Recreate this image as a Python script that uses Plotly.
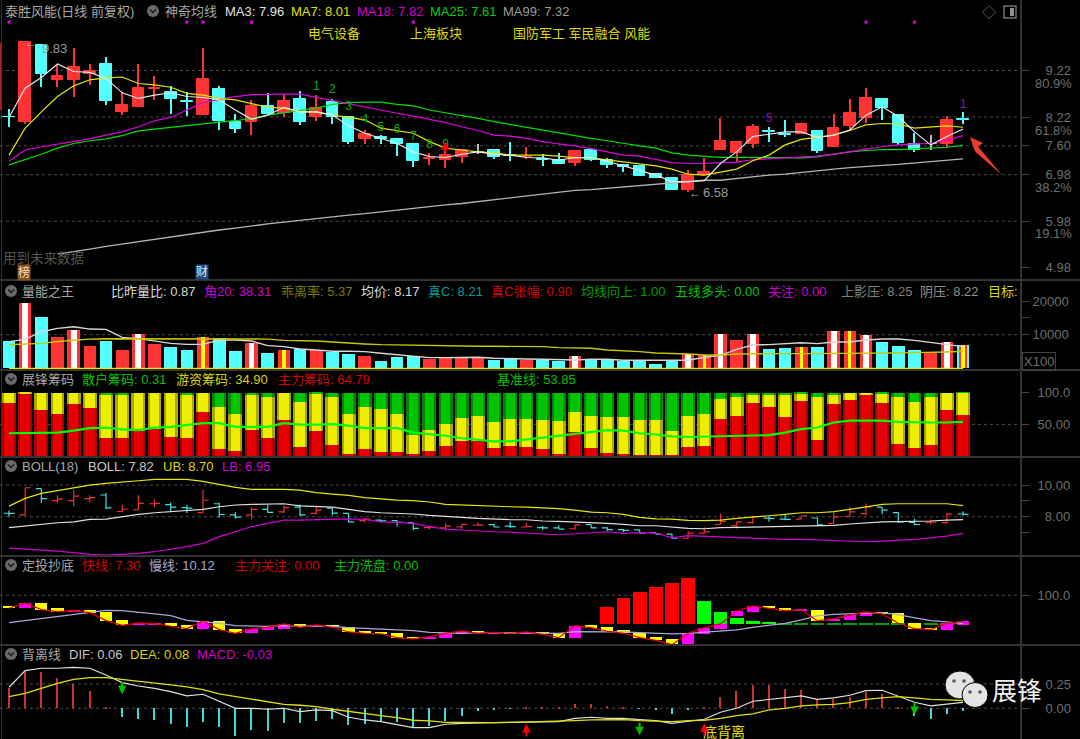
import plotly.graph_objects as go

W, H = 1080, 739
STEP = 16.17
X0 = 9.0
AXIS_X = 1020

# ---------- candles ----------
opens = [8.22,8.11,9.77,9.02,9.02,9.14,9.37,8.33,8.44,8.82,8.76,8.57,8.26,8.82,8.12,8.12,8.46,8.30,8.60,8.21,
         8.54,8.21,7.75,7.78,7.75,7.63,7.31,7.29,7.35,7.46,7.50,7.40,7.35,7.31,7.29,7.24,7.51,7.29,7.18,7.17,
         6.99,6.90,6.64,6.97,7.51,7.44,7.63,7.91,7.85,7.85,7.92,7.58,8.03,8.19,8.60,8.26,7.64,7.64,7.63,8.17]
highs = [8.39,9.83,9.77,9.36,9.70,9.36,9.50,8.76,9.35,9.10,8.89,8.76,9.70,8.89,8.28,8.59,8.74,8.71,8.77,8.69,
         8.60,8.21,7.95,7.83,7.76,7.63,7.45,7.58,7.53,7.65,7.52,7.68,7.58,7.42,7.45,7.52,7.51,7.33,7.22,7.17,
         6.99,6.92,7.09,7.33,8.19,7.68,8.06,8.00,8.16,8.06,7.94,8.28,8.60,8.84,8.60,8.26,7.87,7.83,8.24,8.33]
lows = [8.00,8.07,8.87,8.87,8.66,8.91,8.48,8.26,8.44,8.59,8.28,8.24,8.26,7.93,7.87,7.83,8.26,8.23,8.04,8.14,
        8.07,7.64,7.64,7.65,7.38,7.15,7.19,7.13,7.24,7.42,7.32,7.28,7.32,7.17,7.22,7.17,7.27,7.12,7.04,6.96,
        6.90,6.64,6.60,6.95,7.51,7.26,7.55,7.68,7.78,7.85,7.44,7.58,7.95,8.10,8.16,7.61,7.46,7.51,7.55,8.07]
closes = [8.21,9.83,9.14,9.11,9.30,9.21,8.56,8.47,8.84,8.84,8.60,8.54,9.04,8.14,7.97,8.46,8.28,8.57,8.11,8.41,
          8.23,7.68,7.85,7.74,7.64,7.27,7.33,7.40,7.52,7.47,7.35,7.38,7.37,7.29,7.22,7.48,7.29,7.19,7.14,6.96,
          6.90,6.64,6.97,7.04,7.70,7.68,8.01,7.90,7.83,8.06,7.49,7.99,8.30,8.62,8.41,7.67,7.51,7.65,8.16,8.15]
gray_doji = [29, 57]
N = len(opens)
xs = list(range(N))

ma3 = [8.21,8.84,9.07,9.36,9.20,9.18,9.05,8.74,8.62,8.69,8.74,8.66,8.64,8.59,8.37,8.17,8.26,8.43,8.33,8.33,
       8.26,8.03,7.87,7.76,7.65,7.47,7.37,7.35,7.42,7.47,7.42,7.40,7.35,7.34,7.29,7.35,7.35,7.27,7.17,7.07,
       6.97,6.83,6.83,6.85,7.22,7.47,7.80,7.85,7.90,7.90,7.78,7.83,7.94,8.26,8.44,8.23,7.90,7.62,7.80,7.96]
ma7 = [7.40,7.98,8.33,8.66,8.89,9.02,9.06,9.08,8.94,8.91,8.86,8.73,8.69,8.62,8.59,8.51,8.43,8.41,8.33,8.33,
       8.26,8.21,8.16,7.98,7.93,7.87,7.69,7.55,7.51,7.47,7.45,7.40,7.40,7.40,7.38,7.34,7.34,7.30,7.26,7.21,
       7.17,7.10,6.99,6.97,7.03,7.10,7.28,7.40,7.62,7.74,7.78,7.83,7.93,8.05,8.08,8.07,7.98,8.00,8.03,8.00]
ma18 = [7.27,7.51,7.58,7.64,7.70,7.75,7.83,7.90,8.01,8.14,8.21,8.37,8.53,8.60,8.66,8.70,8.71,8.71,8.71,8.64,
        8.57,8.50,8.44,8.37,8.30,8.24,8.17,8.10,8.01,7.93,7.83,7.81,7.76,7.69,7.64,7.60,7.54,7.47,7.40,7.38,
        7.31,7.24,7.22,7.22,7.24,7.25,7.30,7.32,7.33,7.35,7.38,7.42,7.48,7.53,7.58,7.62,7.64,7.65,7.72,7.82]
ma25 = [7.19,7.30,7.42,7.55,7.65,7.71,7.75,7.82,7.92,7.96,8.00,8.03,8.07,8.11,8.14,8.19,8.26,8.31,8.36,8.41,
        8.49,8.53,8.54,8.54,8.49,8.46,8.37,8.31,8.26,8.19,8.12,8.06,8.00,7.94,7.87,7.82,7.76,7.71,7.65,7.60,
        7.55,7.45,7.40,7.37,7.35,7.35,7.35,7.34,7.34,7.34,7.37,7.42,7.47,7.50,7.52,7.52,7.54,7.55,7.57,7.61]
ma99 = [None,None,None,5.27,5.32,5.38,5.44,5.49,5.55,5.60,5.65,5.70,5.75,5.79,5.83,5.88,5.92,5.96,6.00,6.04,
        6.08,6.11,6.14,6.18,6.21,6.25,6.29,6.33,6.36,6.40,6.45,6.49,6.52,6.56,6.60,6.64,6.66,6.69,6.72,6.75,
        6.78,6.81,6.83,6.86,6.86,6.90,6.93,6.97,6.99,7.03,7.06,7.10,7.13,7.16,7.18,7.20,7.23,7.27,7.30,7.32]
top_dots = [0, 11, 12, 15, 25, 53, 56]
top_dot_level = [10.26] * len(top_dots)
seq_x = [19, 20, 21, 22, 23, 24, 25, 26, 27]
seq_y = [8.87, 8.80, 8.44, 8.16, 7.98, 7.94, 7.79, 7.62, 7.62]
seq_txt = ['1', '2', '3', '4', '5', '6', '7', '8', '9']
mag_x = [47, 59]
mag_y = [8.17, 8.47]
mag_txt = ['5', '1']

price_ticks = [9.22, 8.22, 7.60, 6.98, 5.98, 4.98]
price_grid = [9.22, 8.22, 7.60, 6.98, 5.98]
pct_labels = [('80.9%', 84), ('61.8%', 130), ('38.2%', 188), ('19.1%', 234)]

# ---------- volume ----------
vol = [8130,19450,15120,9400,11380,6750,8130,5470,10100,7140,6450,5470,9400,9110,5170,7440,4480,5470,5860,5470,
       4780,4380,3790,2120,3400,3690,2800,3100,3400,3400,2510,3000,2510,2610,2120,3790,2710,2710,2220,2120,
       1430,2410,4280,4090,10200,8420,10200,5760,6060,6450,6450,11080,11080,9800,7830,6550,5470,4480,7830,6850]
vol_red = [0,1,0,1,1,1,0,1,1,1,0,0,1,0,0,1,0,1,0,1,0,0,1,0,0,0,1,1,1,1,0,0,1,0,0,1,0,0,0,0,0,0,1,1,1,1,1,0,0,1,0,1,1,1,0,0,0,1,1,0]
white_stripes = [1,4,8,15,35,42,44,46,51,53,58]
yellow_stripes = [12,17,43,49,52,59]
vol_ma_short = [7930,8620,10880,11870,12360,11670,11570,9210,8820,8130,7440,7140,7140,8420,8420,8130,6750,6450,5760,5470,
                5070,5070,4970,4480,3990,3600,3200,3200,3300,3300,3000,3000,2810,2710,2610,2510,2710,2710,2410,2410,
                2310,2410,2410,3300,3890,5660,6940,7040,7440,7630,7340,7830,7830,8420,8720,8720,8320,7630,7140,6450]
vol_ma_long = [7000,7300,7440,8000,8400,8700,8800,8800,8800,8800,8800,8800,8900,8800,8800,8750,8700,8320,8320,8130,
               7830,7440,7240,7040,6940,6750,6750,6650,6650,6550,6550,6550,6450,6450,6160,6060,5960,5470,5270,4970,
               4580,4480,4285,3990,3990,4285,4380,4380,4380,4380,4380,4380,4380,4380,4380,4580,4680,4680,4880,5070]
vol_base = [0] * N
vol_ticks = [20000, 15000, 10000]
vol_ticktext = ['20000', '', '10000']

# ---------- chips ----------
chip_red = [84,99,73,67,82,76,28,28,39,43,30,28,69,11,8,41,28,57,14,39,17,3,11,7,7,3,8,16,23,23,13,16,14,11,3,38,12,5,3,2,
            2,2,14,16,58,64,84,78,62,87,26,82,89,96,84,19,12,17,73,64.79]
chip_yellow = [16,1,27,33,18,24,70,68,61,57,70,70,31,67,58,57,65,43,72,60,76,64,67,67,60,30,33,34,37,41,40,42,44,46,52,31,52,57,58,55,
               55,37,50,51,32.5,29,12,18,34,12,67,16,11,4,15,75,73,76,27,34.9]
chip_green = [0,0,0,0,0,0,2,4,0,0,0,2,0,22,34,2,7,0,14,1,7,33,22,26,33,67,59,50,40,36,47,42,42,43,45,31,36,38,39,43,
              43,61,36,33,9.5,7,4,4,4,1,7,2,0,0,1,6,15,7,0,0.31]
chip_base = [36,36,36,37,40,44,45,42,41,45,46,49.5,52,52,46,46,46,52,49.5,49.5,50.5,48,44,44,44,37,35,32,28,26,23,23,26,29.5,33,35,38,41,40,36,
             34,31,30,30.5,31,32.5,32.5,33,37,42.6,45,53,56,56,56,54,53,53,53,53.85]
chip_ticks = [100, 50]
chip_ticktext = ['100.0', '50.00']

# ---------- Bollinger ----------
boll_mid = [7.31,7.41,7.52,7.62,7.67,7.83,7.85,8.00,8.15,8.25,8.32,8.38,8.46,8.63,8.74,8.78,8.82,8.82,8.69,8.67,
            8.61,8.46,8.32,8.25,8.21,8.17,8.08,8.00,7.96,7.89,7.83,7.81,7.81,7.73,7.71,7.68,7.62,7.58,7.52,7.43,
            7.43,7.35,7.26,7.24,7.31,7.33,7.35,7.37,7.37,7.37,7.41,7.45,7.54,7.62,7.67,7.69,7.69,7.73,7.79,7.82]
boll_up = [8.67,9.16,9.47,9.64,9.79,10.00,10.11,10.21,10.27,10.36,10.38,10.36,10.23,10.06,9.85,9.73,9.73,9.73,9.68,9.52,
           9.43,9.35,9.20,9.12,9.05,9.01,8.93,8.78,8.74,8.69,8.63,8.63,8.61,8.57,8.51,8.42,8.29,8.25,8.15,7.96,
           7.87,7.85,7.77,7.75,7.79,7.89,7.96,8.06,8.15,8.25,8.25,8.32,8.46,8.63,8.78,8.82,8.82,8.82,8.82,8.70]
boll_lb = [6.02,5.96,5.89,5.83,5.73,5.62,5.58,5.62,5.68,5.79,5.94,6.11,6.32,6.74,7.05,7.37,7.58,7.79,7.79,7.83,
           7.85,7.87,7.83,7.68,7.64,7.58,7.37,7.22,7.16,7.09,7.05,7.03,6.99,6.91,6.86,6.91,6.99,7.05,6.95,6.99,
           6.97,6.67,6.80,6.76,6.72,6.69,6.61,6.57,6.57,6.57,6.53,6.48,6.44,6.42,6.46,6.51,6.57,6.67,6.78,6.95]
boll_ticks = [10, 9, 8, 7]
boll_ticktext = ['10.00', '', '\u20078.00', '']

# ---------- dingtou ----------
box_top = [67.3,75.7,75.7,58.8,51.4,52.5,47.2,21.9,12.4,10.2,11.3,5,18.7,18.7,-6.7,-5.6,-1.4,9.2,9.2,6,5,0.7,-11.9,-17.2,-18.3,-30.9,-30.9,-20.4,-13,-13,
           -17.2,-16.2,-16.2,-17.2,-20.4,3.9,5,0.7,-9.8,-18.3,-30.9,-38.3,-20.4,-2.4,9.2,50.4,66.2,66.2,60.9,53.5,54.6,26,36.6,47.2,47.2,43,11.3,-2.4,11.3,17.6]
box_bot = [58.8,58.8,54.6,48.3,47.2,45.1,19.7,5,5,6,1.8,-5.6,-5.6,-8.8,-20.4,-20.4,-9.8,-5.6,-1.4,0.7,-1.4,-16.2,-20.4,-22.5,-34.1,-38.3,-38.3,-34.1,-22.5,-20.4,
           -20.4,-20.4,-21.5,-23.6,-34.1,-34.1,-2.4,-14,-20.4,-34.1,-42.6,-56.3,-57.3,-23.6,-6.7,33.5,48.3,58.8,51.4,51.4,18.7,19.7,22.9,33.5,40.9,11.3,-5.6,-8.8,-9.8,5]
box_up = [0,1,0,0,1,0,0,0,1,1,0,0,1,0,0,1,1,1,0,1,0,0,0,0,0,0,1,1,1,0,
          1,0,1,0,0,1,0,0,0,0,0,0,1,1,1,1,1,0,0,1,0,1,1,1,0,0,0,0,1,1]
slow_line = [13.4,19.7,26.1,32.4,37.7,45.1,52.5,51.4,45.1,40.9,35.6,20.8,15.5,11.3,3.9,2.8,1.8,3.9,3.9,3.9,1.8,-2.4,-4.5,-6.7,-10.9,-11.9,-17.2,-18.3,-20.4,-18.3,
             -17.2,-18.3,-19.3,-20.4,-20.4,-15.1,-15.1,-15.1,-16.2,-18.3,-21.4,-22.5,-20.4,-17.2,-14,-9.8,-1.4,6,11.3,21.9,34.5,39.8,41.9,45.1,45.1,37.7,28.2,19.7,15.5,10.12]
zl_red_x = [37, 38, 39, 40, 41, 42]
zl_red = [62, 90.5, 111.6, 126.4, 140, 155]
zl_green_x = [43, 44, 45, 46, 47]
zl_green = [82, 47.3, 28.2, 17.6, 14.5]
zl_dash_x = [48, 49, 50, 51, 52, 53, 54, 55, 56, 57, 58]
zl_dash = [10.2] * len(zl_dash_x)
zl_base = 8.1
dt_ticks = [100]
dt_ticktext = ['100.0']

# ---------- MACD ----------
dif = [0.216,0.387,0.411,0.411,0.421,0.411,0.342,0.264,0.229,0.205,0.171,0.127,0.144,0.068,0,0,-0.01,0,-0.034,-0.017,
       -0.024,-0.092,-0.12,-0.137,-0.171,-0.199,-0.199,-0.164,-0.154,-0.147,-0.147,-0.144,-0.14,-0.137,-0.137,-0.103,-0.092,-0.103,-0.103,-0.116,
       -0.127,-0.154,-0.137,-0.113,-0.041,0,0.072,0.092,0.113,0.127,0.092,0.106,0.134,0.182,0.185,0.127,0.062,0.024,0.041,0.06]
dea = [0.12,0.154,0.205,0.257,0.298,0.315,0.315,0.298,0.277,0.264,0.24,0.219,0.192,0.147,0.12,0.092,0.065,0.041,0.031,0.017,
       -0.01,-0.034,-0.058,-0.075,-0.096,-0.123,-0.13,-0.144,-0.144,-0.147,-0.147,-0.144,-0.14,-0.137,-0.137,-0.127,-0.12,-0.12,-0.116,-0.127,
       -0.13,-0.137,-0.127,-0.123,-0.103,-0.075,-0.058,-0.017,0,0.024,0.034,0.041,0.058,0.092,0.106,0.12,0.106,0.092,0.086,0.08]
macd = [0.205,0.387,0.377,0.308,0.25,0.178,0.005,-0.086,-0.113,-0.12,-0.164,-0.195,-0.137,-0.188,-0.284,-0.226,-0.229,-0.147,-0.154,-0.127,
        -0.113,-0.171,-0.164,-0.137,-0.137,-0.188,-0.178,-0.13,-0.079,-0.024,-0.017,-0.007,0.003,0.003,0.007,0.041,0.041,0.024,0.014,-0.003,
        -0.017,-0.058,-0.017,0.003,0.12,0.178,0.24,0.24,0.202,0.192,0.092,0.1,0.12,0.171,0.144,0.01,-0.075,-0.11,-0.058,-0.03]
macd_ticks = [0.25, 0.0]
macd_ticktext = ['0.25', '0.00']
sell_x = [7, 39, 56]
sell_y = [0.144, -0.277, -0.068]
buy_x = [32, 43]
buy_y = [-0.161, -0.154]

# ---------- colours ----------
RED = '#FF3333'
CYAN = '#54FFFF'
FONT = 'Liberation Sans, Noto Sans CJK SC, sans-serif'
GRID = '#4a4a4a'
BORDER = '#333333'
TICK = '#6e6e6e'

# panels: top px, bottom px, range
panels = {
    'y':  (0, 280, 8.22 - (280 - 117) / 46.5, 8.22 + 117 / 46.5),
    'y2': (280, 370, -475, 26230),
    'y3': (370, 457, -1.6, 136),
    'y4': (457, 556, 5.52, 11.77),
    'y5': (556, 645, -57.5, 224.5),
    'y6': (645, 739, -0.3155, 0.65),
}

fig = go.Figure()


def bars(x, base, height, colour, width, yaxis, line=0):
    fig.add_trace(go.Bar(x=x, y=height, base=base, width=width, yaxis=yaxis,
                         marker=dict(color=colour, line=dict(width=line, color=colour)), showlegend=False))


def line(y, colour, yaxis, width=1.0):
    fig.add_trace(go.Scatter(x=xs, y=y, yaxis=yaxis, mode='lines',
                             line=dict(color=colour, width=width), showlegend=False, connectgaps=False))


# main
candle_colours = [(('#b8b8b8') if i in gray_doji else (RED if closes[i] >= opens[i] else CYAN)) for i in xs]
bars(xs, lows, [h - l for h, l in zip(highs, lows)], candle_colours, 0.075, 'y')
bars(xs, [min(o, c) for o, c in zip(opens, closes)], [abs(o - c) for o, c in zip(opens, closes)],
     candle_colours, 0.72, 'y', line=1)
line(ma99, '#b4b4b4', 'y', 1.3)
line(ma25, '#00E000', 'y', 1.2)
line(ma18, '#E000E0', 'y', 1.2)
line(ma7, '#E6E600', 'y', 1.2)
line(ma3, '#EDEDED', 'y', 1.1)
fig.add_trace(go.Scatter(x=top_dots, y=top_dot_level, mode='markers', yaxis='y',
                         marker=dict(color='#E000E0', size=3, symbol='square'), showlegend=False))
fig.add_trace(go.Scatter(x=seq_x, y=seq_y, text=seq_txt, mode='text', yaxis='y',
                         textfont=dict(color='#00B000', size=12, family=FONT), showlegend=False))
fig.add_trace(go.Scatter(x=mag_x, y=mag_y, text=mag_txt, mode='text', yaxis='y',
                         textfont=dict(color='#B000A0', size=12, family=FONT), showlegend=False))

# volume
vol_colours = [RED if r else CYAN for r in vol_red]
bars(xs, [0] * N, vol, vol_colours, 0.78, 'y2')
bars(white_stripes, [0] * len(white_stripes), [vol[i] for i in white_stripes], '#FFFFFF', 0.36, 'y2')
stripe_bg = [RED for _ in yellow_stripes]
bars(yellow_stripes, [0] * len(yellow_stripes), [vol[i] for i in yellow_stripes], stripe_bg, 0.52, 'y2')
bars(yellow_stripes, [0] * len(yellow_stripes), [vol[i] for i in yellow_stripes], '#FFFF00', 0.2, 'y2')
line(vol_ma_short, '#D8D8D8', 'y2', 1.4)
line(vol_ma_long, '#C8C800', 'y2', 1.4)
line(vol_base, '#E6E600', 'y2', 1.5)

# chips (darker edge + brighter core to mimic the cylinder shading)
cum_y = [r + y for r, y in zip(chip_red, chip_yellow)]
for w, cr, cy, cg in [(0.86, '#A80000', '#A8A800', '#008800'), (0.58, '#E60000', '#EEEE00', '#00C400')]:
    bars(xs, [0] * N, chip_red, cr, w, 'y3')
    bars(xs, chip_red, chip_yellow, cy, w, 'y3')
    bars(xs, cum_y, chip_green, cg, w, 'y3')
line(chip_base, '#00FF00', 'y3', 2.2)

# boll
fig.add_trace(go.Ohlc(x=xs, open=opens, high=highs, low=lows, close=closes, yaxis='y4', tickwidth=0.34,
                      increasing=dict(line=dict(color='#F03030', width=1.2)),
                      decreasing=dict(line=dict(color='#40E0E0', width=1.2)), showlegend=False))
line(boll_mid, '#E0E0E0', 'y4', 1.2)
line(boll_up, '#E6E600', 'y4', 1.2)
line(boll_lb, '#D000D0', 'y4', 1.2)

# dingtou
bars(zl_red_x, [zl_base] * len(zl_red_x), [v - zl_base for v in zl_red], '#FF0000', 0.86, 'y5')
bars(zl_green_x, [zl_base] * len(zl_green_x), [v - zl_base for v in zl_green], '#00FF00', 0.86, 'y5')
bars(zl_dash_x, [zl_base] * len(zl_dash_x), [v - zl_base for v in zl_dash], '#00A000', 0.86, 'y5')
fast_line = [t if u else b for t, b, u in zip(box_top, box_bot, box_up)]
line(slow_line, '#A8A8D8', 'y5', 1.2)
line(fast_line, '#E00000', 'y5', 1.2)
bars(xs, box_bot, [t - b for t, b in zip(box_top, box_bot)],
     ['#FF00FF' if u else '#FFFF00' for u in box_up], 0.76, 'y5')

# macd
bars(xs, [min(v, 0) for v in macd], [abs(v) for v in macd],
     ['#D03030' if v >= 0 else '#40D8D8' for v in macd], 0.085, 'y6')
line(dif, '#E0E0E0', 'y6', 1.2)
line(dea, '#E0E000', 'y6', 1.3)

# ---------- layout helpers ----------
annots = []
shapes = []


def px(x):
    return x / W


def py(y):
    return 1 - y / H


def text(x, y, s, colour, size=13, xanchor='left', **kw):
    nudge = {'left': -2, 'right': 2, 'center': 0}[xanchor]
    annots.append(dict(x=px(x + nudge), y=py(y), xref='paper', yref='paper', text=s, showarrow=False,
                       xanchor=xanchor, yanchor='middle', font=dict(family=FONT, size=size, color=colour), **kw))


def chevron(x, y):
    shapes.append(dict(type='circle', xref='paper', yref='paper', x0=px(x - 6), x1=px(x + 6), y0=py(y + 6), y1=py(y - 6),
                       fillcolor='#6a6a6a', line=dict(width=0), layer='above'))
    shapes.append(dict(type='path', xref='paper', yref='paper',
                       path=f'M {px(x-3)} {py(y-1.5)} L {px(x)} {py(y+1.5)} L {px(x+3)} {py(y-1.5)}',
                       line=dict(color='#1a1a1a', width=1.4), layer='above'))


# headers
rows = [
    (11, [('泰胜风能(日线 前复权)', 5, '#A8A8A8'), ('神奇均线', 165, '#A8A8A8'), ('MA3: 7.96', 225, '#E0E0E0'),
          ('MA7: 8.01', 291, '#E0E000'), ('MA18: 7.82', 357, '#D000D0'), ('MA25: 7.61', 430, '#00D000'),
          ('MA99: 7.32', 503, '#9A9A9A')]),
    (33, [('电气设备', 308, '#DCDC00'), ('上海板块', 410, '#DCDC00'), ('国防军工 军民融合 风能', 513, '#DCDC00')]),
    (291, [('量能之王', 22, '#A8A8A8'), ('比昨量比: 0.87', 111, '#D8D8D8'), ('角20: 38.31', 204, '#D000D0'),
           ('乖离率: 5.37', 281, '#7C7C00'), ('均价: 8.17', 361, '#D8D8D8'), ('真C: 8.21', 428, '#009C9C'),
           ('真C张幅: 0.90', 491, '#D80000'), ('均线向上: 1.00', 581, '#009C00'), ('五线多头: 0.00', 675, '#00C400'),
           ('关注: 0.00', 768, '#D000D0'), ('上影压: 8.25', 841, '#808080'), ('阴压: 8.22', 920, '#909090')]),
    (379, [('展锋筹码', 22, '#A8A8A8'), ('散户筹码: 0.31', 82, '#00C400'), ('游资筹码: 34.90', 176, '#D8D800'),
           ('主力筹码: 64.79', 278, '#D80000'), ('基准线: 53.85', 497, '#00C400')]),
    (466, [('BOLL(18)', 22, '#A8A8A8'), ('BOLL: 7.82', 88, '#C8C8C8'), ('UB: 8.70', 163, '#D8D800'),
           ('LB: 6.95', 222, '#D000D0')]),
    (565, [('定投抄底', 22, '#A8A8A8'), ('快线: 7.30', 82, '#D80000'), ('慢线: 10.12', 149, '#A8A8D0'),
           ('主力关注: 0.00', 235, '#D80000'), ('主力洗盘: 0.00', 334, '#00C000')]),
    (654, [('背离线', 22, '#A8A8A8'), ('DIF: 0.06', 69, '#C8C8C8'), ('DEA: 0.08', 130, '#D8D800'),
           ('MACD: -0.03', 197, '#D000D0')]),
]
for y, items in rows:
    for s, x, c in items:
        text(x, y, s, c)
text(988, 291, '目标', '#D8D800')
text(1014, 291, ':', '#D8D800')
for x, y in [(153, 11), (11, 291), (11, 379), (11, 466), (11, 565), (11, 654)]:
    chevron(x, y)

# price extras
for s, y in pct_labels:
    text(1072, y, s, TICK, 13, xanchor='right')
text(25, 43, '←', '#A8A8A8', 12)
text(42, 48, '9.83', '#9A9A9A', 13)
text(689, 193, '←', '#A8A8A8', 12)
text(703, 193, '6.58', '#9A9A9A', 13)
text(3, 258, '用到未来数据', '#555555', 13.5)
text(24, 272, '榜', '#F0E0C0', 12, xanchor='center', bgcolor='#8A4E18', borderpad=0)
text(202, 272, '财', '#E0E8F0', 12, xanchor='center', bgcolor='#1C4E80', borderpad=0)
text(989, 12, '◇', '#707070', 14, xanchor='center')
text(1039, 361, 'X100', TICK, 13, xanchor='center', bordercolor='#444444', borderwidth=1, borderpad=1)
text(724, 732, '底背离', '#E0E000', 14, xanchor='center')
text(992, 691, '展锋', '#F0F0F0', 25)

# trade arrows
for x, y in zip(sell_x, sell_y):
    annots.append(dict(x=x, y=y, xref='x', yref='y6', ax=0, ay=-14, text='', showarrow=True, arrowhead=2,
                       arrowsize=0.85, arrowwidth=2, arrowcolor='#00C000'))
for x, y in zip(buy_x, buy_y):
    annots.append(dict(x=x, y=y, xref='x', yref='y6', ax=0, ay=14, text='', showarrow=True, arrowhead=2,
                       arrowsize=0.85, arrowwidth=2, arrowcolor='#FF0000'))
annots.append(dict(x=27, y=7.70, xref='x', yref='y', ax=0, ay=13, text='', showarrow=True, arrowhead=2,
                   arrowsize=0.85, arrowwidth=2, arrowcolor='#FF0000'))


# grid
def grid(values, yref):
    for v in values:
        shapes.append(dict(type='line', xref='x domain', yref=yref, x0=0, x1=1, y0=v, y1=v, layer='below',
                           line=dict(color=GRID, width=1, dash='dot')))


grid(price_grid, 'y')
grid([10000], 'y2')
grid([50], 'y3')
grid([10, 8], 'y4')
grid([100], 'y5')
grid([0.25, 0.0], 'y6')

# borders
for y in [280, 370, 457, 556, 645]:
    shapes.append(dict(type='line', xref='paper', yref='paper', x0=0, x1=px(1080), y0=py(y), y1=py(y),
                       line=dict(color=BORDER, width=2), layer='above'))
shapes.append(dict(type='line', xref='paper', yref='paper', x0=px(1.5), x1=px(1.5), y0=0, y1=1,
                   line=dict(color=BORDER, width=1), layer='below'))
shapes.append(dict(type='line', xref='paper', yref='paper', x0=px(0.5), x1=px(0.5), y0=py(43), y1=py(110),
                   line=dict(color='#B02020', width=1.5), layer='above'))

# top-right panel icon
shapes.append(dict(type='rect', xref='paper', yref='paper', x0=px(1004), x1=px(1016), y0=py(18), y1=py(6),
                   line=dict(color='#707070', width=1.5), fillcolor='rgba(0,0,0,0)'))
shapes.append(dict(type='rect', xref='paper', yref='paper', x0=px(1010), x1=px(1014), y0=py(16), y1=py(8),
                   line=dict(width=0), fillcolor='#909090'))

# red call-out arrow
arrow_pts = [(970, 137), (983, 143), (978, 146.5), (1002, 175), (975.5, 152), (974, 149)]
shapes.append(dict(type='path', xref='paper', yref='paper', layer='above', fillcolor='#EE3B30', line=dict(width=0),
                   path='M ' + ' L '.join(f'{px(a)} {py(b)}' for a, b in arrow_pts) + ' Z'))

# wechat mark
for cx, cy, rx, ry in [(960, 685, 15, 14), (975, 695, 13, 12.5)]:
    shapes.append(dict(type='circle', xref='paper', yref='paper', x0=px(cx - rx), x1=px(cx + rx), y0=py(cy + ry), y1=py(cy - ry),
                       fillcolor='#E4E4E4', line=dict(color='#000000', width=1), layer='above'))
for cx, cy in [(954, 681), (964, 681), (970, 692), (980, 692)]:
    shapes.append(dict(type='circle', xref='paper', yref='paper', x0=px(cx - 1.8), x1=px(cx + 1.8), y0=py(cy + 1.8), y1=py(cy - 1.8),
                       fillcolor='#555555', line=dict(width=0), layer='above'))

# ---------- axes ----------
layout = dict(
    width=W, height=H, autosize=False, margin=dict(l=0, r=0, t=0, b=0), paper_bgcolor='#000000', plot_bgcolor='#000000',
    barmode='overlay', bargap=0, showlegend=False, hovermode=False, font=dict(family=FONT),
    xaxis=dict(domain=[0, AXIS_X / W], range=[(0 - X0) / STEP, (AXIS_X - X0) / STEP], visible=False,
               rangeslider=dict(visible=False), fixedrange=True),
    annotations=annots, shapes=shapes,
)
tick_cfg = {
    'y': (price_ticks, [f'{v:.2f}' for v in price_ticks], 14),
    'y2': (vol_ticks, vol_ticktext, 1),
    'y3': (chip_ticks, chip_ticktext, 6),
    'y4': (boll_ticks, boll_ticktext, 6),
    'y5': (dt_ticks, dt_ticktext, 6),
    'y6': (macd_ticks, macd_ticktext, 14),
}
for key, (top, bot, lo, hi) in panels.items():
    vals, labels, standoff = tick_cfg[key]
    name = 'yaxis' if key == 'y' else 'yaxis' + key[1:]
    layout[name] = dict(domain=[1 - bot / H, 1 - top / H], range=[lo, hi], anchor='x', side='right', showgrid=False,
                        zeroline=False, showline=True, linecolor=BORDER, linewidth=2, ticks='outside', ticklen=7,
                        tickcolor='#444444', tickmode='array', tickvals=vals, ticktext=labels, ticklabelstandoff=standoff,
                        tickfont=dict(family=FONT, size=13, color=TICK), fixedrange=True)
fig.update_layout(**layout)

fig.write_html('out.html', config=dict(displayModeBar=False),
               post_script="document.body.style.margin='0';document.body.style.background='#000';")
